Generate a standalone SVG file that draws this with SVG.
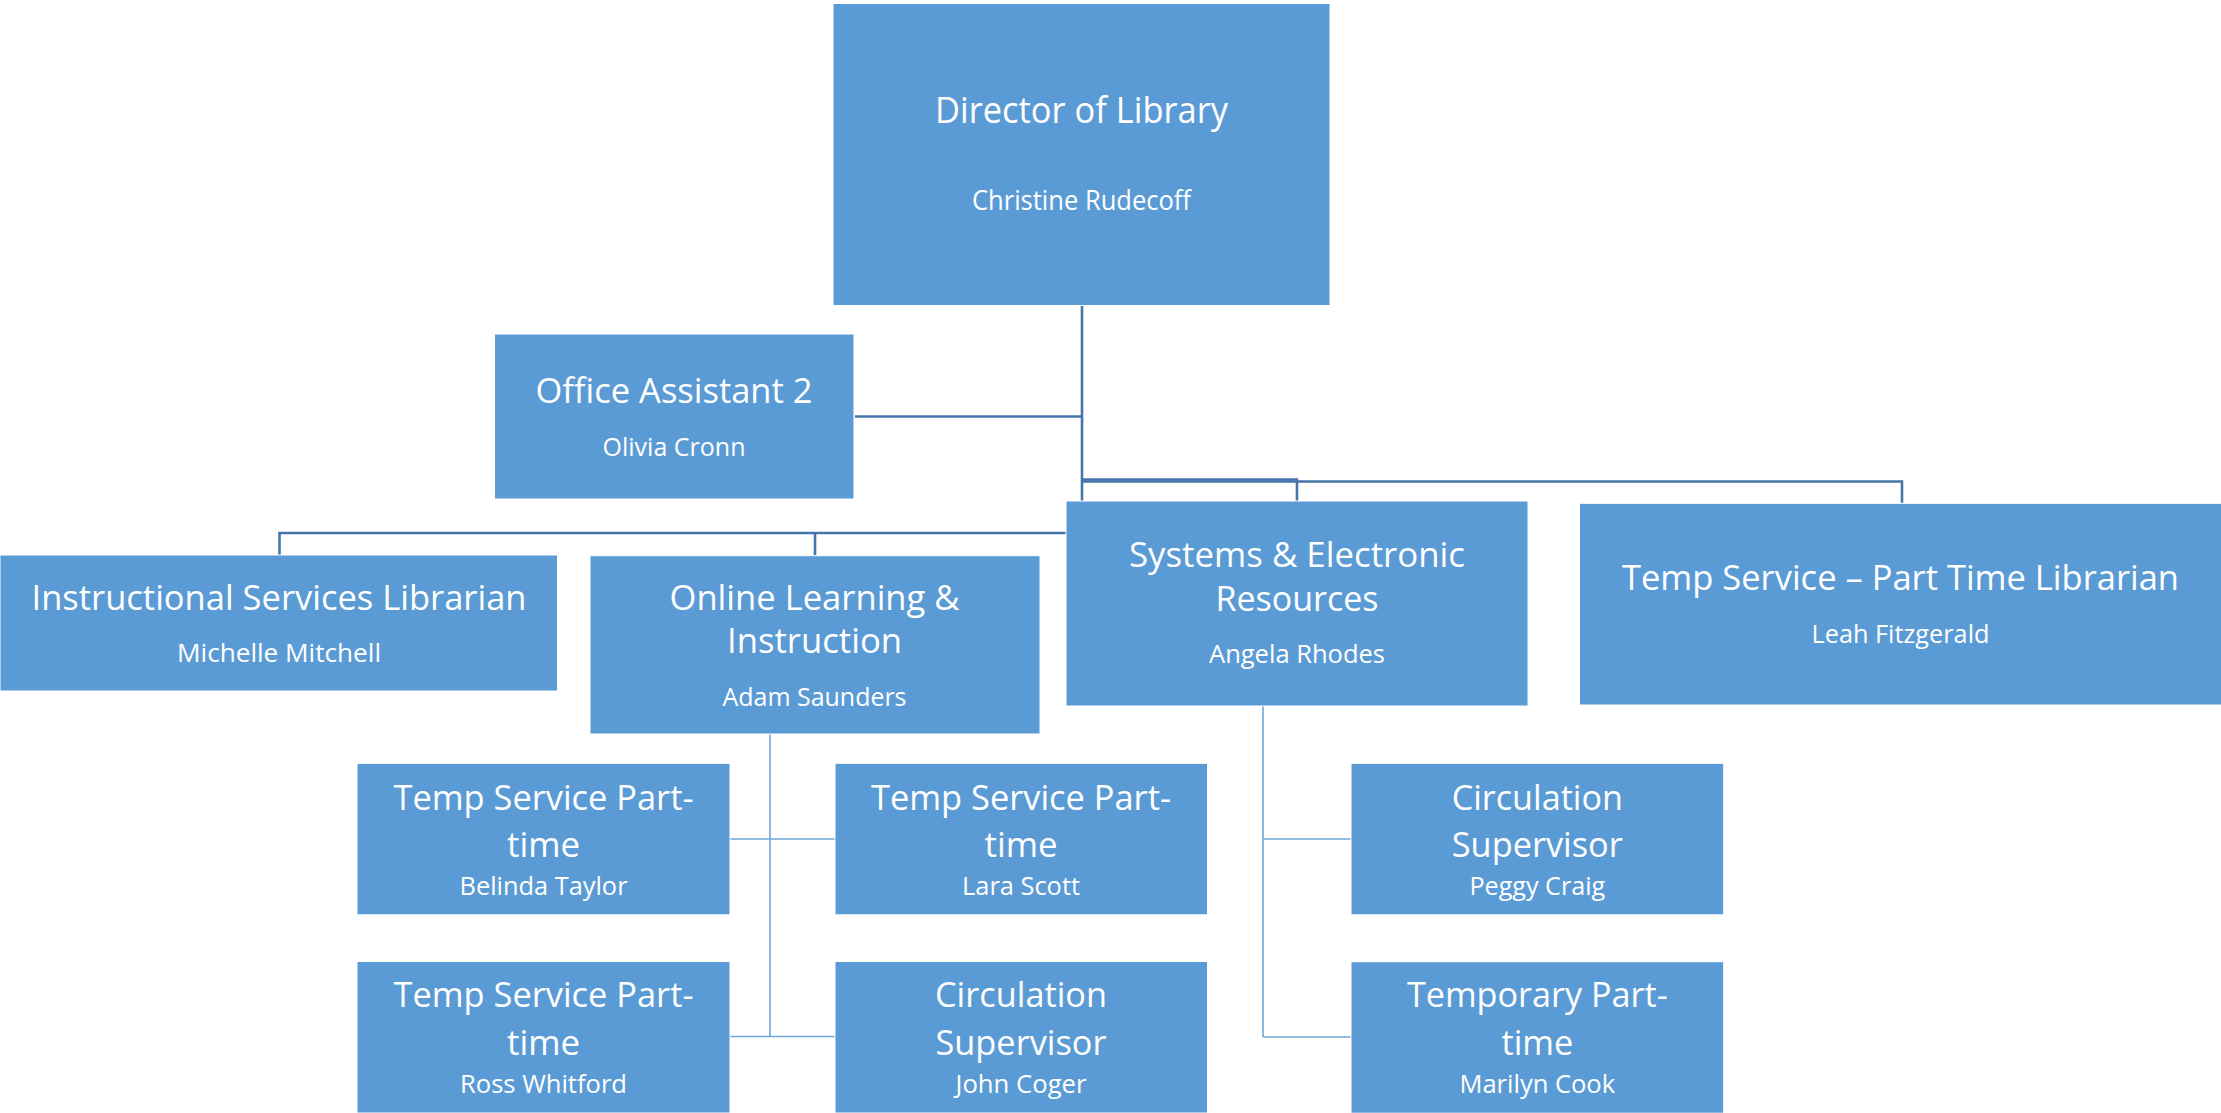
<svg xmlns="http://www.w3.org/2000/svg" width="2221" height="1113" viewBox="0 0 2221 1113">
<style>
.box{fill:#5B9BD5;stroke:#ffffff;stroke-width:1}
.t{font-family:"Open Sans","Noto Sans",sans-serif;fill:#ffffff;text-anchor:middle;font-size:35px}
.n{font-family:"Open Sans","Noto Sans",sans-serif;fill:#ffffff;text-anchor:middle;font-size:26px}
.c1{fill:none;stroke:#4675AA;stroke-width:2.6}
.c2{fill:none;stroke:#6FA6DA;stroke-width:1.6}
</style>
<rect width="2221" height="1113" fill="#ffffff"/>
<g id="connectors">
<path class="c1" d="M1082 306 V533"/>
<path class="c1" d="M1082 416.5 H855"/>
<path class="c1" d="M1082 479.5 H1297 V501"/>
<path class="c1" d="M1082 481.5 H1902 V503"/>
<path class="c1" d="M1082 533 H279.5 V555"/>
<path class="c1" d="M815 533 V556"/>
<path class="c2" d="M770 734 V1036.5"/>
<path class="c2" d="M730 839 H835"/>
<path class="c2" d="M730 1036.5 H835"/>
<path class="c2" d="M1263 706 V1037"/>
<path class="c2" d="M1263 839 H1351"/>
<path class="c2" d="M1263 1037 H1351"/>
</g>
<g id="director">
<rect class="box" x="833" y="3.5" width="497" height="302"/>
<text class="t" x="1081.5" y="123" textLength="293" lengthAdjust="spacingAndGlyphs" style="font-size:37px">Director of Library</text>
<text class="n" x="1081.5" y="210" textLength="219" lengthAdjust="spacingAndGlyphs" style="font-size:27px">Christine Rudecoff</text>
</g>
<g id="office-assistant">
<rect class="box" x="494.5" y="334" width="359.5" height="165"/>
<text class="t" x="674" y="403" textLength="277" lengthAdjust="spacingAndGlyphs">Office Assistant 2</text>
<text class="n" x="674" y="456" textLength="143" lengthAdjust="spacingAndGlyphs">Olivia Cronn</text>
</g>
<g id="instructional">
<rect class="box" x="0" y="555" width="557.5" height="136"/>
<text class="t" x="279" y="610" textLength="495" lengthAdjust="spacingAndGlyphs">Instructional Services Librarian</text>
<text class="n" x="279" y="661.7" textLength="204" lengthAdjust="spacingAndGlyphs">Michelle Mitchell</text>
</g>
<g id="online-learning">
<rect class="box" x="590" y="555.7" width="450" height="178.3"/>
<text class="t" x="814.5" y="610" textLength="290" lengthAdjust="spacingAndGlyphs">Online Learning &amp;</text>
<text class="t" x="814.5" y="653.3" textLength="175" lengthAdjust="spacingAndGlyphs">Instruction</text>
<text class="n" x="814.5" y="705.7" textLength="184" lengthAdjust="spacingAndGlyphs">Adam Saunders</text>
</g>
<g id="systems">
<rect class="box" x="1066" y="501" width="462" height="205"/>
<text class="t" x="1297" y="566.7" textLength="336" lengthAdjust="spacingAndGlyphs">Systems &amp; Electronic</text>
<text class="t" x="1297" y="610.7" textLength="163" lengthAdjust="spacingAndGlyphs">Resources</text>
<text class="n" x="1297" y="662.7" textLength="176" lengthAdjust="spacingAndGlyphs">Angela Rhodes</text>
</g>
<g id="temp-librarian">
<rect class="box" x="1579.5" y="503.3" width="642" height="201.7"/>
<text class="t" x="1900.5" y="590" textLength="557" lengthAdjust="spacingAndGlyphs">Temp Service – Part Time Librarian</text>
<text class="n" x="1900.5" y="642.7" textLength="178" lengthAdjust="spacingAndGlyphs">Leah Fitzgerald</text>
</g>
<g id="belinda">
<rect class="box" x="357" y="763.3" width="373" height="151.5"/>
<text class="t" x="543.5" y="810" textLength="300" lengthAdjust="spacingAndGlyphs">Temp Service Part-</text>
<text class="t" x="543.5" y="857.3" textLength="73" lengthAdjust="spacingAndGlyphs">time</text>
<text class="n" x="543.5" y="895" textLength="168" lengthAdjust="spacingAndGlyphs">Belinda Taylor</text>
</g>
<g id="lara">
<rect class="box" x="835" y="763.3" width="372.5" height="151.5"/>
<text class="t" x="1021" y="810" textLength="300" lengthAdjust="spacingAndGlyphs">Temp Service Part-</text>
<text class="t" x="1021" y="857.3" textLength="73" lengthAdjust="spacingAndGlyphs">time</text>
<text class="n" x="1021" y="895" textLength="118" lengthAdjust="spacingAndGlyphs">Lara Scott</text>
</g>
<g id="ross">
<rect class="box" x="357" y="961.5" width="373" height="151.5"/>
<text class="t" x="543.5" y="1007.3" textLength="300" lengthAdjust="spacingAndGlyphs">Temp Service Part-</text>
<text class="t" x="543.5" y="1055" textLength="73" lengthAdjust="spacingAndGlyphs">time</text>
<text class="n" x="543.5" y="1093.3" textLength="167" lengthAdjust="spacingAndGlyphs">Ross Whitford</text>
</g>
<g id="john">
<rect class="box" x="835" y="961.5" width="372.5" height="151.5"/>
<text class="t" x="1021" y="1007.3" textLength="172" lengthAdjust="spacingAndGlyphs">Circulation</text>
<text class="t" x="1021" y="1055" textLength="171" lengthAdjust="spacingAndGlyphs">Supervisor</text>
<text class="n" x="1021" y="1093.3" textLength="131" lengthAdjust="spacingAndGlyphs">John Coger</text>
</g>
<g id="peggy">
<rect class="box" x="1351" y="763.3" width="372.7" height="151.5"/>
<text class="t" x="1537.3" y="810" textLength="171.3" lengthAdjust="spacingAndGlyphs">Circulation</text>
<text class="t" x="1537.3" y="857.3" textLength="171" lengthAdjust="spacingAndGlyphs">Supervisor</text>
<text class="n" x="1537.3" y="895" textLength="135.7" lengthAdjust="spacingAndGlyphs">Peggy Craig</text>
</g>
<g id="marilyn">
<rect class="box" x="1351" y="961.7" width="372.7" height="151.5"/>
<text class="t" x="1537.3" y="1006.7" textLength="260.7" lengthAdjust="spacingAndGlyphs">Temporary Part-</text>
<text class="t" x="1537.3" y="1055" textLength="71.7" lengthAdjust="spacingAndGlyphs">time</text>
<text class="n" x="1537.3" y="1093.3" textLength="155.7" lengthAdjust="spacingAndGlyphs">Marilyn Cook</text>
</g>
</svg>
